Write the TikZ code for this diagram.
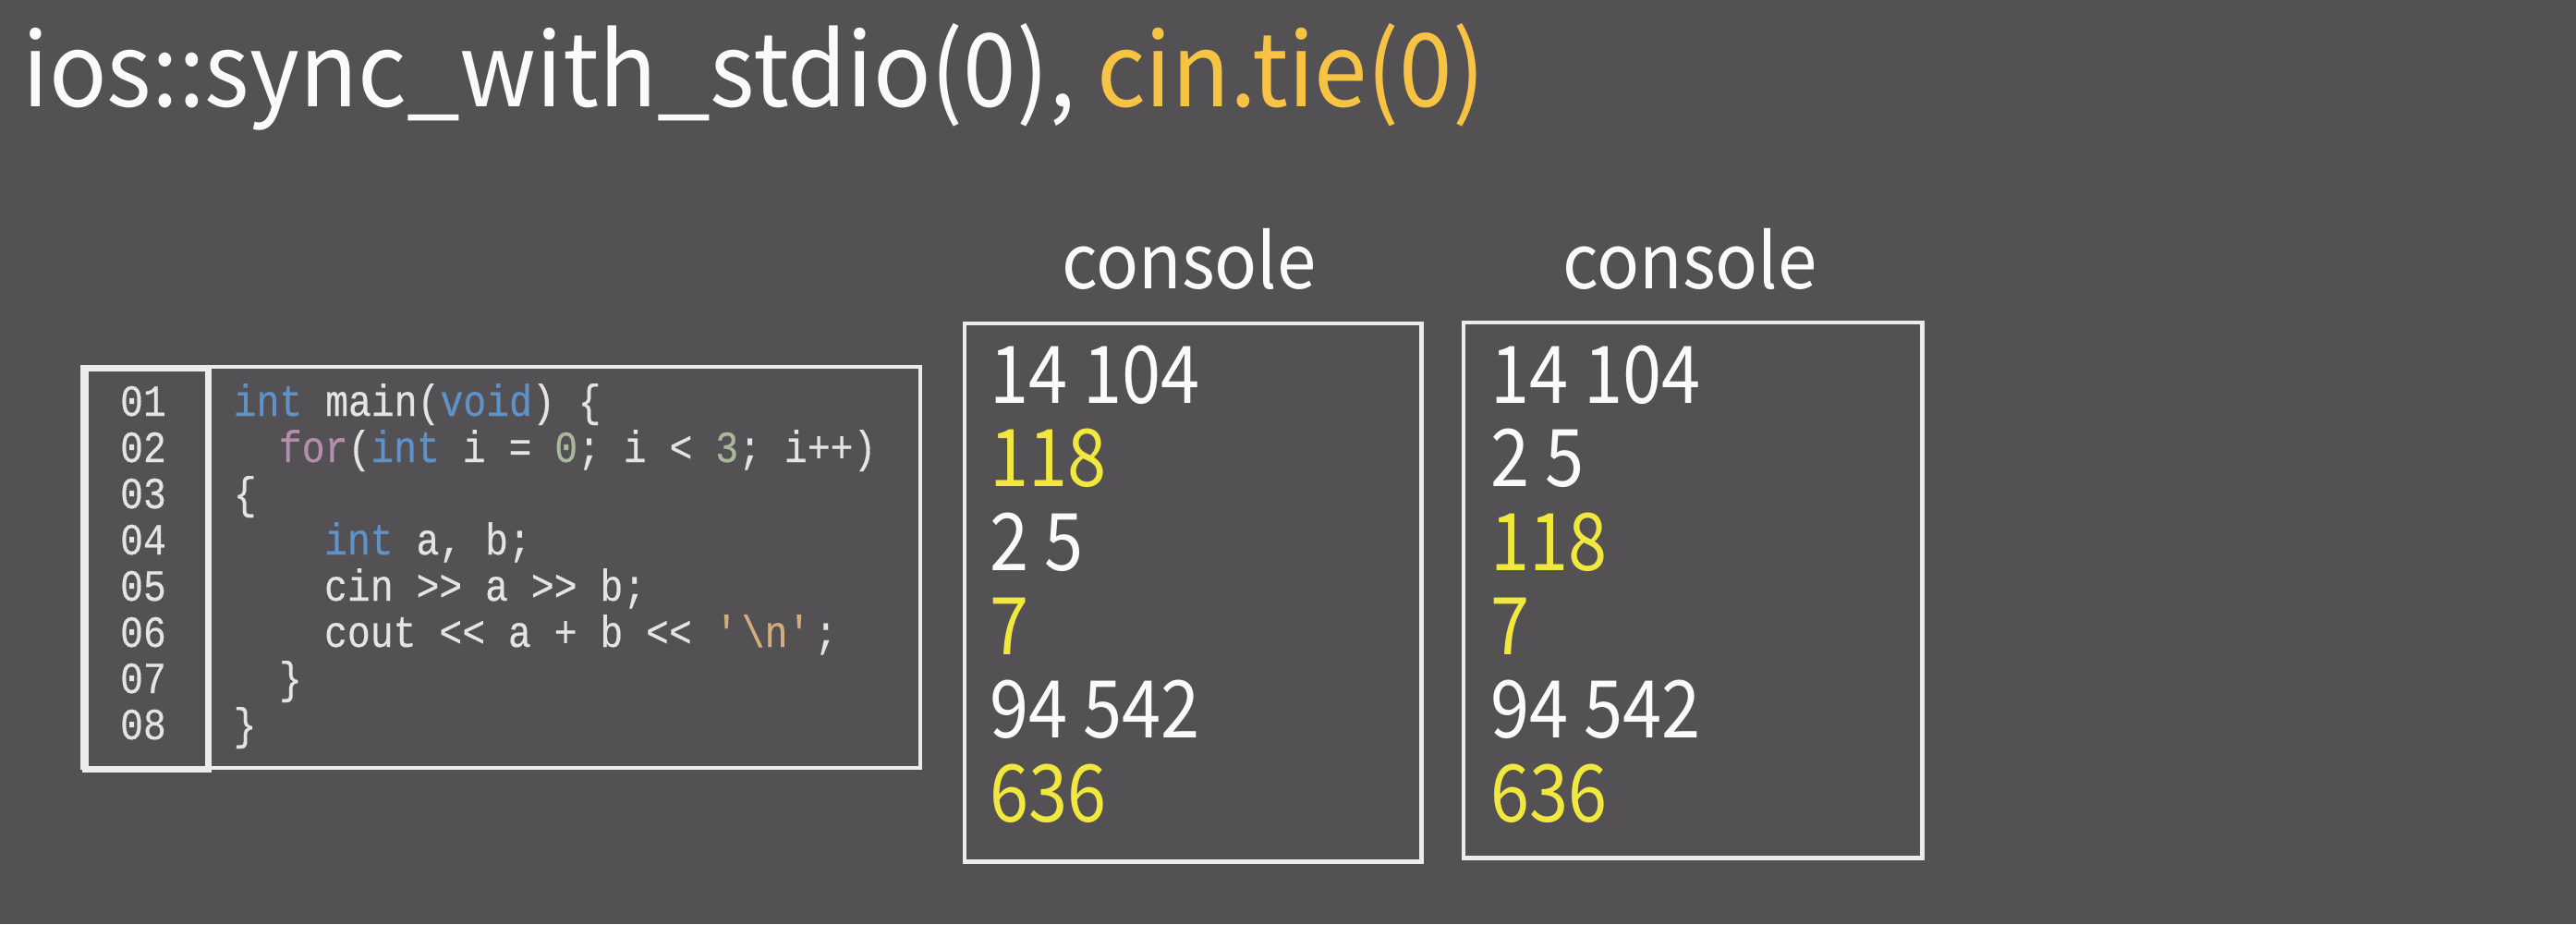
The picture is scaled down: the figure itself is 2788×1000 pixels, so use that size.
\documentclass[tikz,border=0pt]{standalone}
\usepackage{fontspec}
\setmainfont{Noto Sans CJK SC}
\newfontfamily\headfont{Noto Sans CJK SC}[FakeStretch=0.94]
\newfontfamily\labfont{Noto Sans CJK SC}[FakeStretch=0.93]
\newfontfamily\numfont{Noto Sans CJK SC}[FakeStretch=0.88]
\newfontfamily\codefont{Liberation Mono}[FakeStretch=0.86, FakeBold=0.4]

\definecolor{bg}{HTML}{535153}
\definecolor{fg}{HTML}{FAFAFA}
\definecolor{gold}{HTML}{F6C344}
\definecolor{yel}{HTML}{F1E83F}
\definecolor{edge}{HTML}{ECECEC}
\definecolor{codefg}{HTML}{E4E4E4}
\definecolor{kw}{HTML}{5E92C8}
\definecolor{ctl}{HTML}{B48EAD}
\definecolor{num}{HTML}{A9B89A}
\definecolor{str}{HTML}{D2AE7C}

\newcommand{\kwd}[1]{\textcolor{kw}{#1}}
\newcommand{\ctlw}[1]{\textcolor{ctl}{#1}}
\newcommand{\numl}[1]{\textcolor{num}{#1}}
\newcommand{\strl}[1]{\textcolor{str}{#1}}

\tikzset{
  txt/.style={inner sep=0pt, anchor=base west, text=fg},
  headline/.style={txt, font=\headfont\fontsize{31.3pt}{36pt}\selectfont},
  code/.style={txt, text=codefg, font=\codefont\fontsize{13.7pt}{16pt}\selectfont},
  lnum/.style={code, anchor=base},
  conlabel/.style={txt, anchor=base, font=\labfont\fontsize{23.3pt}{28pt}\selectfont},
  outline/.style={txt, font=\numfont\fontsize{24.5pt}{28pt}\selectfont},
  hiline/.style={outline, text=yel},
  frame/.style={draw=edge, line width=1.2pt, inner sep=0pt, anchor=north west},
}

\begin{document}
\begin{tikzpicture}[x=0.01cm, y=-0.01cm]
  \fill[bg] (0,0) rectangle (2788,1000);
  \useasboundingbox (0,0) rectangle (2788,1000);

  % heading
  \node[headline] (head) at (24,115) {ios::sync\_with\_stdio(0), \textcolor{gold}{cin.tie(0)}};

  % source listing with its line-number column
  \node[frame, minimum width=9.06cm, minimum height=4.34cm] (codebox) at (87,395) {};
  \node[frame, line width=2pt, minimum width=1.33cm, minimum height=4.34cm] (numbox) at (89,394.5) {};

  \foreach \i in {1,...,8} {
    \node[lnum] (n\i) at (155,{450+50*(\i-1)}) {0\i};
  }

  \def\cw{24.6}
  \node[code] (c1) at (252,450) {\kwd{int} main(\kwd{void}) \{};
  \node[code] (c2) at ({252+2*\cw},500) {\ctlw{for}(\kwd{int} i = \numl{0}; i <{} \numl{3}; i++)};
  \node[code] (c3) at (252,550) {\{};
  \node[code] (c4) at ({252+4*\cw},600) {\kwd{int} a, b;};
  \node[code] (c5) at ({252+4*\cw},650) {cin >{}> a >{}> b;};
  \node[code] (c6) at ({252+4*\cw},700) {cout <{}< a + b <{}< \strl{\textquotesingle\textbackslash n\textquotesingle};};
  \node[code] (c7) at ({252+2*\cw},750) {\}};
  \node[code] (c8) at (252,800) {\}};

  % first console
  \node[conlabel] (lab1) at (1287,312) {console};
  \node[frame, minimum width=4.94cm, minimum height=5.82cm] (con1) at (1042,348) {};
  \node[outline] (a1) at (1071,436) {14 104};
  \node[hiline]  (a2) at (1071,526) {118};
  \node[outline] (a3) at (1071,617) {2 5};
  \node[hiline]  (a4) at (1071,708) {7};
  \node[outline] (a5) at (1071,798) {94 542};
  \node[hiline]  (a6) at (1071,889) {636};

  % second console
  \node[conlabel] (lab2) at (1829,312) {console};
  \node[frame, minimum width=4.96cm, minimum height=5.79cm] (con2) at (1582,347) {};
  \node[outline] (b1) at (1613,436) {14 104};
  \node[outline] (b2) at (1613,526) {2 5};
  \node[hiline]  (b3) at (1613,617) {118};
  \node[hiline]  (b4) at (1613,708) {7};
  \node[outline] (b5) at (1613,798) {94 542};
  \node[hiline]  (b6) at (1613,889) {636};
\end{tikzpicture}
\end{document}
